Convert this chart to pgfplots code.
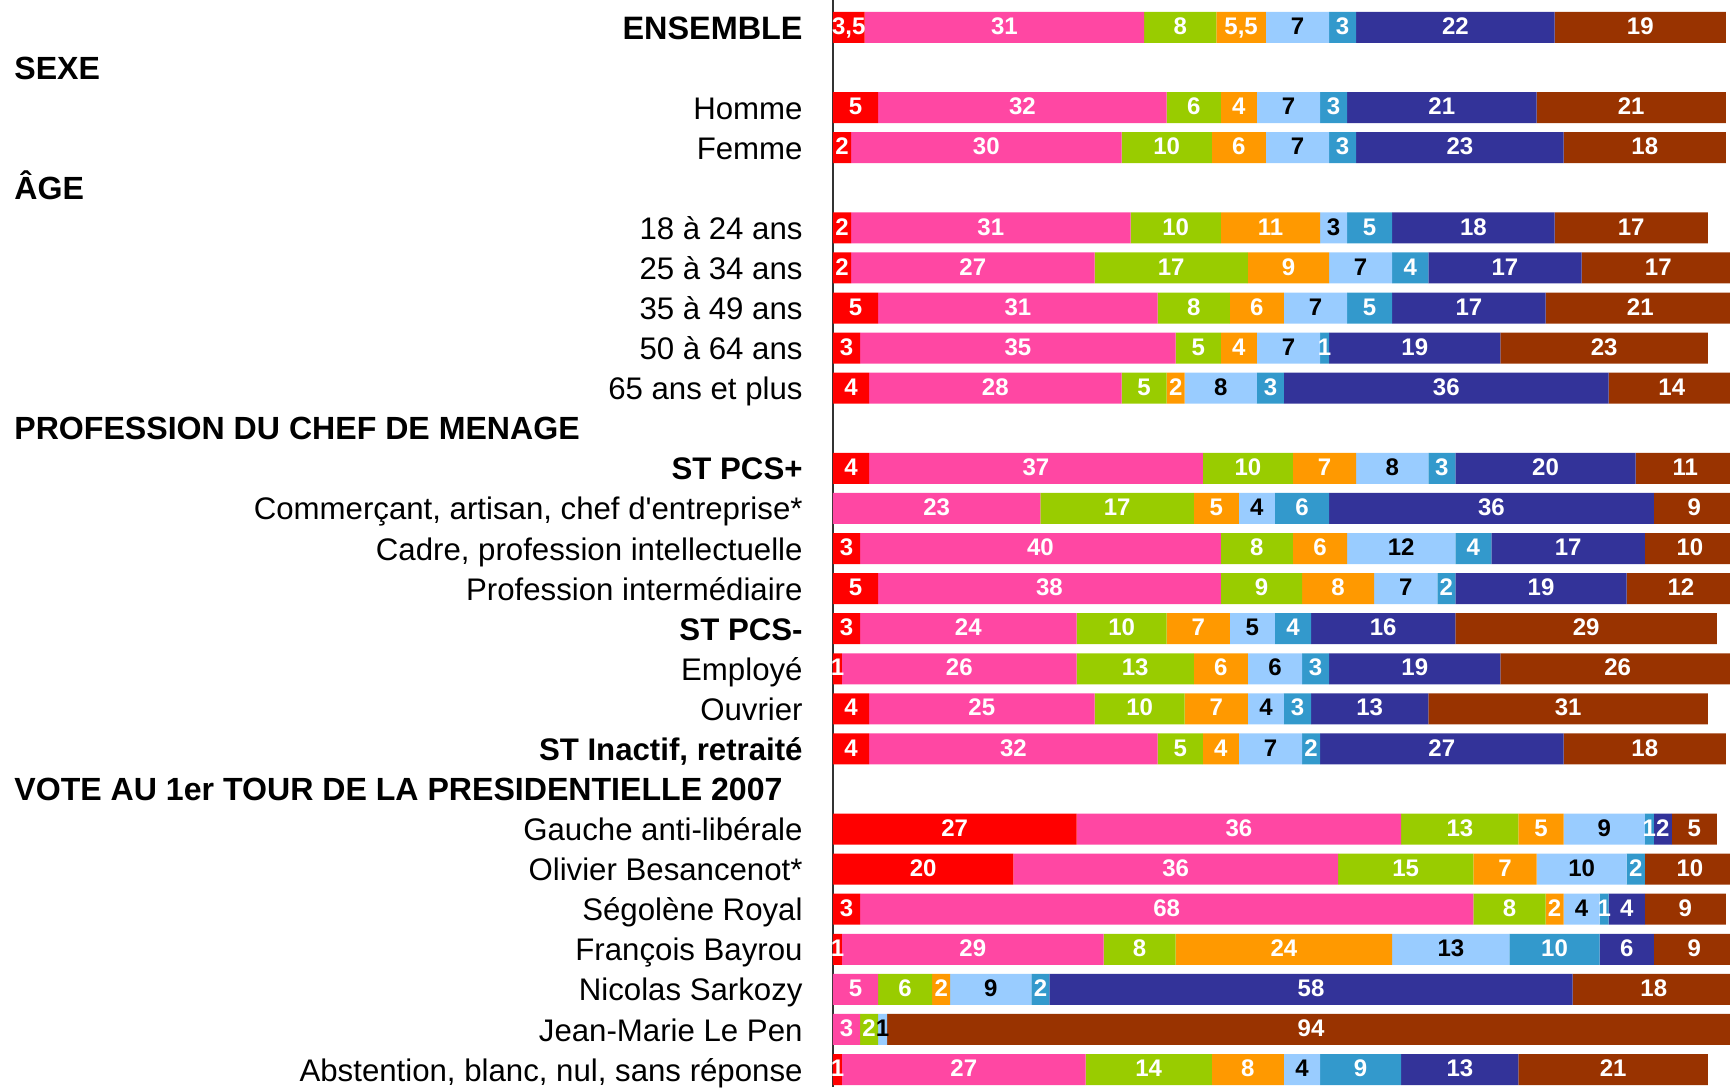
\documentclass[border=0pt]{standalone}
\usepackage{fontspec}
\setmainfont{Liberation Sans}
\usepackage{pgfplots}
\usepackage{pgfplotstable}
\pgfplotsset{compat=1.18}

\definecolor{cRouge}{HTML}{FF0000}
\definecolor{cRose}{HTML}{FF47A3}
\definecolor{cVert}{HTML}{99CC00}
\definecolor{cOrange}{HTML}{FF9900}
\definecolor{cCiel}{HTML}{99CCFF}
\definecolor{cBleu}{HTML}{3399CC}
\definecolor{cMarine}{HTML}{333399}
\definecolor{cBrun}{HTML}{993300}

% pos = position from the top (header rows 1, 4, 10, 19 have no bar)
\pgfplotstableread{
pos a b c d e f g h
0 3.5 31 8 5.5 7 3 22 19
2 5 32 6 4 7 3 21 21
3 2 30 10 6 7 3 23 18
5 2 31 10 11 3 5 18 17
6 2 27 17 9 7 4 17 17
7 5 31 8 6 7 5 17 21
8 3 35 5 4 7 1 19 23
9 4 28 5 2 8 3 36 14
11 4 37 10 7 8 3 20 11
12 0 23 17 5 4 6 36 9
13 3 40 8 6 12 4 17 10
14 5 38 9 8 7 2 19 12
15 3 24 10 7 5 4 16 29
16 1 26 13 6 6 3 19 26
17 4 25 10 7 4 3 13 31
18 4 32 5 4 7 2 27 18
20 27 36 13 5 9 1 2 5
21 20 36 15 7 10 2 0 10
22 3 68 8 2 4 1 4 9
23 1 29 8 24 13 10 6 9
24 0 5 6 2 9 2 58 18
25 0 3 2 0 1 0 0 94
26 1 27 14 8 4 9 13 21
}\votes

\pgfplotsset{
  geom/.style={
    x=4.51pt, y=20.04pt, y dir=reverse,
    xmin=0, xmax=99.45, ymin=-0.686, ymax=26.437,
  },
  lab/.style={only marks, mark=*, mark size=0pt, draw=none, fill=none,
    point meta=explicit symbolic,
    nodes near coords={\ifdim\pgfplotspointmeta pt>0.5pt\relax\pgfmathprintnumber[use comma, assume math mode=true]{\pgfplotspointmeta}\fi},
    nodes near coords style={font=\fontsize{12}{13}\selectfont\bfseries, text=#1, anchor=center,
      inner sep=0pt, text height=0.716em, text depth=0pt}},
}

\begin{document}
\begin{tikzpicture}
\begin{axis}[geom,
  xbar stacked, bar width=15.5pt,
  hide x axis,
  axis y line*=left,
  axis line style={black!80, line width=0.7pt},
  major tick length=0pt,
  ytick={0,2,3,5,6,7,8,9,11,12,13,14,15,16,17,18,20,21,22,23,24,25,26},
  yticklabels={{\fontsize{16.2}{18}\selectfont\bfseries ENSEMBLE},Homme,Femme,18 à 24 ans,25 à 34 ans,35 à 49 ans,50 à 64 ans,65 ans et plus,
    \textbf{ST PCS+},{Commerçant, artisan, chef d\textquotesingle entreprise*},{Cadre, profession intellectuelle},Profession intermédiaire,
    \textbf{ST PCS-},Employé,Ouvrier,{\textbf{ST Inactif, retraité}},
    Gauche anti-libérale,Olivier Besancenot*,Ségolène Royal,François Bayrou,Nicolas Sarkozy,Jean-Marie Le Pen,
    {Abstention, blanc, nul, sans réponse}},
  yticklabel style={font=\fontsize{15.6}{18}\selectfont, inner sep=0pt, anchor=east,
    text height=0.716em, text depth=0pt, xshift=-15pt, yshift=-2.2pt},
  extra y ticks={1,4,10,19},
  extra y tick labels={SEXE,ÂGE,PROFESSION DU CHEF DE MENAGE,VOTE AU 1er TOUR DE LA PRESIDENTIELLE 2007},
  extra y tick style={yticklabel style={anchor=west, xshift=-394.5pt, font=\fontsize{16.05}{19}\selectfont\bfseries}},
]
\addplot[fill=cRouge, draw=none] table[x=a, y=pos]{\votes};
\addplot[fill=cRose, draw=none] table[x=b, y=pos]{\votes};
\addplot[fill=cVert, draw=none] table[x=c, y=pos]{\votes};
\addplot[fill=cOrange, draw=none] table[x=d, y=pos]{\votes};
\addplot[fill=cCiel, draw=none] table[x=e, y=pos]{\votes};
\addplot[fill=cBleu, draw=none] table[x=f, y=pos]{\votes};
\addplot[fill=cMarine, draw=none] table[x=g, y=pos]{\votes};
\addplot[fill=cBrun, draw=none] table[x=h, y=pos]{\votes};
\end{axis}

% segment values, centred on each segment
\begin{axis}[geom, hide axis, clip=false]
\addplot[lab=white] table[x expr={\thisrow{a}/2}, y=pos, meta=a]{\votes};
\addplot[lab=white] table[x expr={\thisrow{a}+\thisrow{b}/2}, y=pos, meta=b]{\votes};
\addplot[lab=white] table[x expr={\thisrow{a}+\thisrow{b}+\thisrow{c}/2}, y=pos, meta=c]{\votes};
\addplot[lab=white] table[x expr={\thisrow{a}+\thisrow{b}+\thisrow{c}+\thisrow{d}/2}, y=pos, meta=d]{\votes};
\addplot[lab=black] table[x expr={\thisrow{a}+\thisrow{b}+\thisrow{c}+\thisrow{d}+\thisrow{e}/2}, y=pos, meta=e]{\votes};
\addplot[lab=white] table[x expr={\thisrow{a}+\thisrow{b}+\thisrow{c}+\thisrow{d}+\thisrow{e}+\thisrow{f}/2}, y=pos, meta=f]{\votes};
\addplot[lab=white] table[x expr={\thisrow{a}+\thisrow{b}+\thisrow{c}+\thisrow{d}+\thisrow{e}+\thisrow{f}+\thisrow{g}/2}, y=pos, meta=g]{\votes};
\addplot[lab=white] table[x expr={\thisrow{a}+\thisrow{b}+\thisrow{c}+\thisrow{d}+\thisrow{e}+\thisrow{f}+\thisrow{g}+\thisrow{h}/2}, y=pos, meta=h]{\votes};
\end{axis}
\pgfresetboundingbox
\path[use as bounding box] ([xshift=-416.5pt]current axis.south west) rectangle (current axis.north east);
\end{tikzpicture}
\end{document}
